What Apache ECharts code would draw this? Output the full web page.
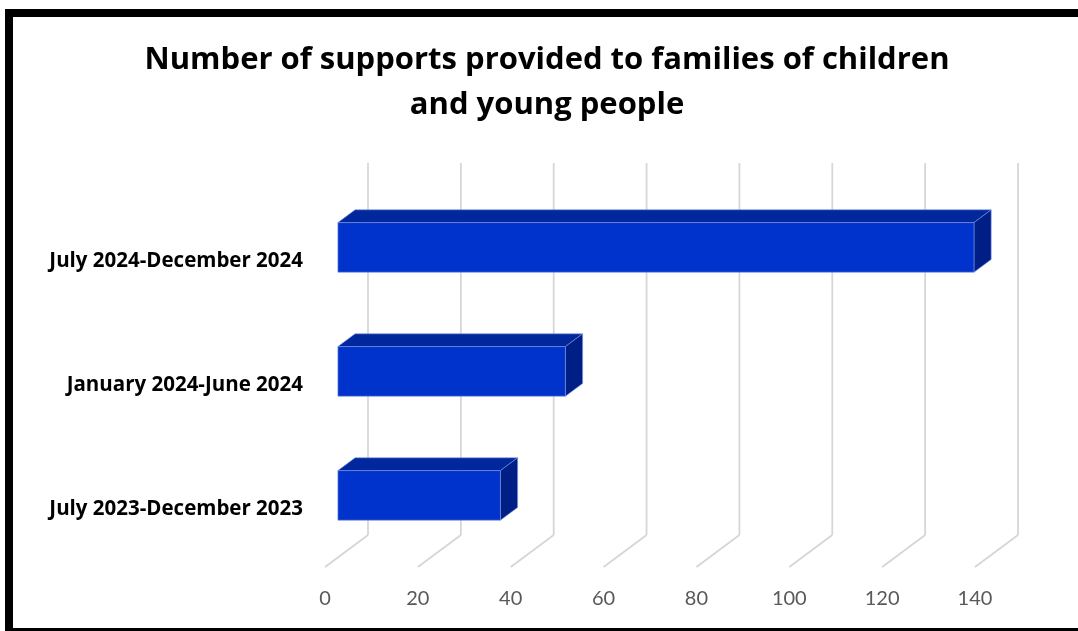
<!DOCTYPE html>
<html>
<head>
<meta charset="utf-8">
<script src="https://cdn.jsdelivr.net/npm/echarts@6/dist/echarts.min.js"></script>
<style>
  html, body { margin: 0; padding: 0; background: #ffffff; }
  #chart { width: 1078px; height: 631px; }
</style>
</head>
<body>
<div id="chart"></div>
<script>
// Reporting periods, bottom to top on the category axis
const categories = [
  'July 2023-December 2023',
  'January 2024-June 2024',
  'July 2024-December 2024'
];
// Number of supports provided in each period
const supports = [35, 49, 137];
// Value axis ticks
const xTicks = [0, 20, 40, 60, 80, 100, 120, 140];

// Perspective offset from the front floor edge to the back wall
const DX = 43, DY = -32;
// Bars sit between these fractions of the depth
const D0 = 0.3, D1 = 0.7;

const chart = echarts.init(document.getElementById('chart'));

function gridLineItem(params, api) {
  const cs = params.coordSys;
  const x = api.coord([api.value(0), 0])[0];
  const bottom = cs.y + cs.height;
  const top = cs.y;
  const style = { stroke: '#d6d6d6', lineWidth: 1.8, fill: null };
  return {
    type: 'group',
    children: [
      { type: 'line', shape: { x1: x, y1: bottom, x2: x + DX, y2: bottom + DY }, style },
      { type: 'line', shape: { x1: x + DX, y1: bottom + DY, x2: x + DX, y2: top + DY }, style }
    ]
  };
}

function barItem(params, api) {
  const idx = api.value(1);
  const x0 = api.coord([0, idx])[0];
  const p = api.coord([api.value(0), idx]);
  const x1 = p[0], yc = p[1];
  const h = api.size([0, 1])[1] * 0.4;
  const yT = yc - h / 2, yB = yc + h / 2;
  const fx = x0 + D0 * DX, fy = D0 * DY;
  const bx = D1 * DX, by = D1 * DY;
  const edge = { stroke: '#7d93e0', lineWidth: 0.6 };
  return {
    type: 'group',
    children: [
      {
        type: 'polygon',
        shape: { points: [[fx, yT + fy], [x0 + bx, yT + by], [x1 + bx, yT + by], [x1 + D0 * DX, yT + fy]] },
        style: Object.assign({ fill: '#00289c' }, edge)
      },
      {
        type: 'polygon',
        shape: { points: [[x1 + D0 * DX, yT + fy], [x1 + bx, yT + by], [x1 + bx, yB + by], [x1 + D0 * DX, yB + fy]] },
        style: Object.assign({ fill: '#001f86' }, edge)
      },
      {
        type: 'rect',
        shape: { x: fx, y: yT + fy, width: x1 - x0, height: h },
        style: Object.assign({ fill: '#0032cc' }, edge)
      }
    ]
  };
}

chart.setOption({
  animation: false,
  backgroundColor: '#ffffff',
  grid: { left: 325, right: 103, top: 195, bottom: 64 },
  xAxis: {
    type: 'value',
    min: 0,
    max: 140,
    interval: 20,
    axisLine: { show: false },
    axisTick: { show: false },
    splitLine: { show: false },
    axisLabel: {
      margin: 22,
      color: '#595959',
      fontFamily: 'Lato',
      fontSize: 20,
      customValues: xTicks
    }
  },
  yAxis: {
    type: 'category',
    data: categories,
    axisLine: { show: false },
    axisTick: { show: false },
    splitLine: { show: false },
    axisLabel: {
      margin: 22,
      formatter: '{c|{value}}',
      rich: {
        c: {
          color: '#000000',
          fontFamily: 'Open Sans',
          fontWeight: 'bold',
          fontSize: 20.5,
          padding: [8, 0, 0, 0]
        }
      }
    }
  },
  graphic: [
    { type: 'rect', shape: { x: 5, y: 9, width: 1073, height: 8 }, style: { fill: '#000000' } },
    { type: 'rect', shape: { x: 5, y: 9, width: 8, height: 622 }, style: { fill: '#000000' } },
    { type: 'rect', shape: { x: 5, y: 628, width: 1073, height: 3 }, style: { fill: '#000000' } },
    {
      type: 'text',
      x: 547,
      y: 38,
      style: {
        text: 'Number of supports provided to families of children\nand young people',
        textAlign: 'center',
        textVerticalAlign: 'top',
        fill: '#000000',
        font: 'bold 31px "Open Sans"',
        lineHeight: 45
      }
    }
  ],
  series: [
    {
      type: 'custom',
      name: 'gridlines',
      renderItem: gridLineItem,
      data: xTicks.map(v => [v, 0]),
      encode: { x: 0, y: 1 },
      clip: false,
      silent: true,
      z: 1
    },
    {
      type: 'custom',
      name: 'Supports',
      renderItem: barItem,
      data: supports.map((v, i) => [v, i]),
      encode: { x: 0, y: 1 },
      clip: false,
      z: 2
    }
  ]
});
</script>
</body>
</html>
